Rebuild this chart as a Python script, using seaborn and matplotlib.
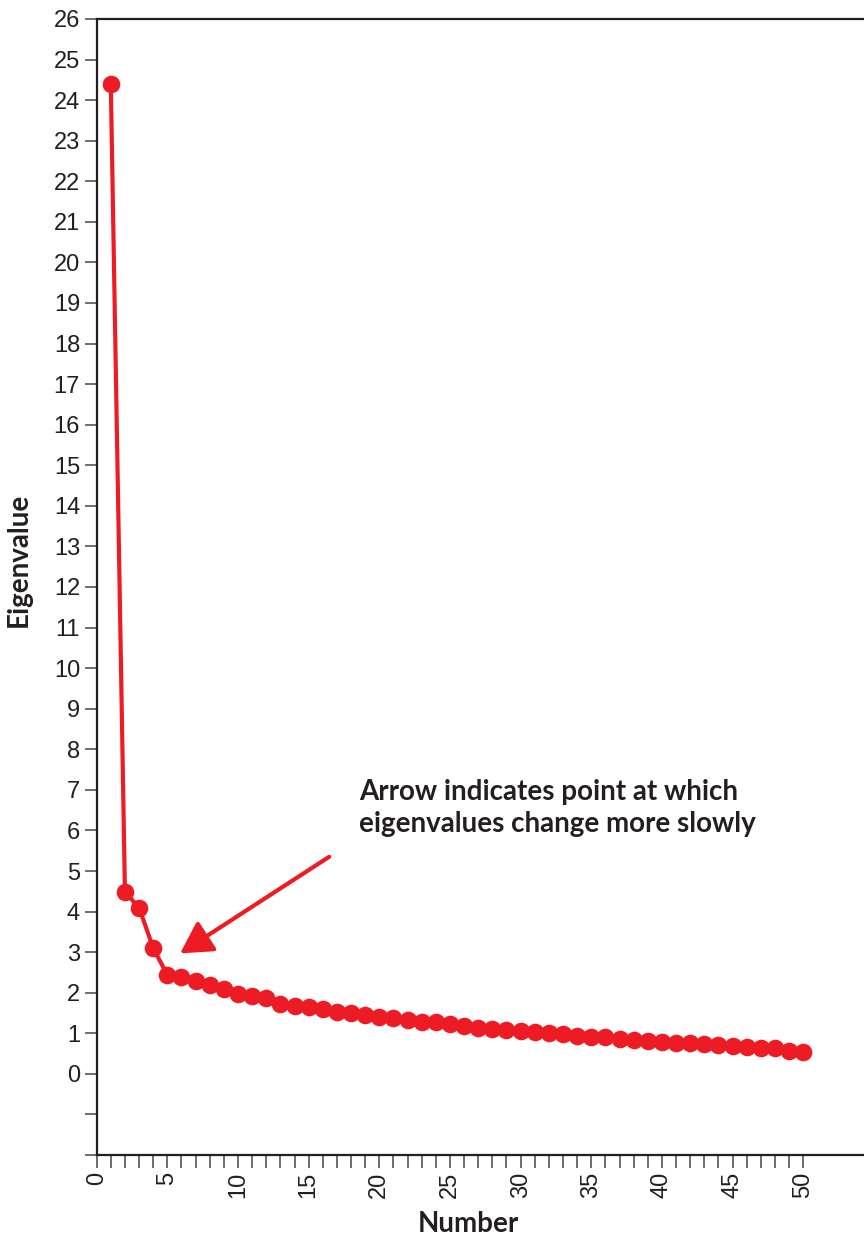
import matplotlib
matplotlib.use("Agg")
import matplotlib.pyplot as plt
import seaborn as sns
import pandas as pd

# Scree data: component number and its eigenvalue
numbers = list(range(1, 51))
eigenvalues = [
    24.39, 4.48, 4.10, 3.10, 2.44, 2.40, 2.28, 2.19, 2.09, 1.96,
    1.91, 1.86, 1.73, 1.68, 1.66, 1.59, 1.52, 1.49, 1.45, 1.40,
    1.37, 1.32, 1.29, 1.27, 1.22, 1.17, 1.12, 1.11, 1.09, 1.06,
    1.03, 1.02, 0.98, 0.93, 0.92, 0.90, 0.86, 0.83, 0.81, 0.79,
    0.77, 0.76, 0.73, 0.72, 0.69, 0.67, 0.65, 0.64, 0.57, 0.54,
]
y_ticks = list(range(-2, 27))
y_tick_labels = [str(v) if v >= 0 else "" for v in y_ticks]
x_ticks = list(range(0, 51))
x_tick_labels = [str(v) if v % 5 == 0 else "" for v in x_ticks]

annotation = "Arrow indicates point at which\neigenvalues change more slowly"
arrow_tail = (16.45, 5.35)
arrow_head = (5.9, 2.97)

RED = "#ED1C24"
INK = "#231F20"

sns.set_theme(style="white")
plt.rcParams["font.family"] = ["Liberation Sans", "DejaVu Sans"]

df = pd.DataFrame({"Number": numbers, "Eigenvalue": eigenvalues})

fig = plt.figure(figsize=(8.64, 12.38), dpi=100)
ax = fig.add_axes([0.1119, 0.0670, 0.8881, 0.9177])

sns.lineplot(data=df, x="Number", y="Eigenvalue", ax=ax, color=RED,
             linewidth=3, marker="o", markersize=12.7, markeredgewidth=0,
             zorder=3)

ax.set_xlim(0, 54.3)
ax.set_ylim(-2, 26)

ax.set_yticks(y_ticks)
ax.set_yticklabels(y_tick_labels)
ax.set_xticks(x_ticks)
ax.set_xticklabels(x_tick_labels, rotation=90)

ax.tick_params(axis="both", which="major", direction="out", length=9,
               width=1.2, color="#555555", labelcolor=INK, labelsize=17,
               pad=3, left=True, bottom=True)

for side in ("left", "top", "bottom"):
    ax.spines[side].set_color(INK)
    ax.spines[side].set_linewidth(1.6)
ax.spines["right"].set_visible(False)

ax.set_xlabel("Number", fontfamily="Lato", fontweight="bold", fontsize=20,
              color=INK)
ax.set_ylabel("Eigenvalue", fontfamily="Lato", fontweight="bold",
              fontsize=20, color=INK)
ax.xaxis.set_label_coords(0.484, -0.049)
ax.yaxis.set_label_coords(-0.084, 0.524)

ax.annotate("", xy=arrow_head, xytext=arrow_tail,
            arrowprops=dict(arrowstyle="-|>,head_length=1.6,head_width=0.9",
                            color=RED, linewidth=3, shrinkA=0, shrinkB=0))

ax.text(18.56, 6.56, annotation, fontfamily="Lato", fontweight="bold",
        fontsize=20, color=INK, ha="left", va="center", linespacing=1.3)

fig.savefig("out.png", dpi=100)
